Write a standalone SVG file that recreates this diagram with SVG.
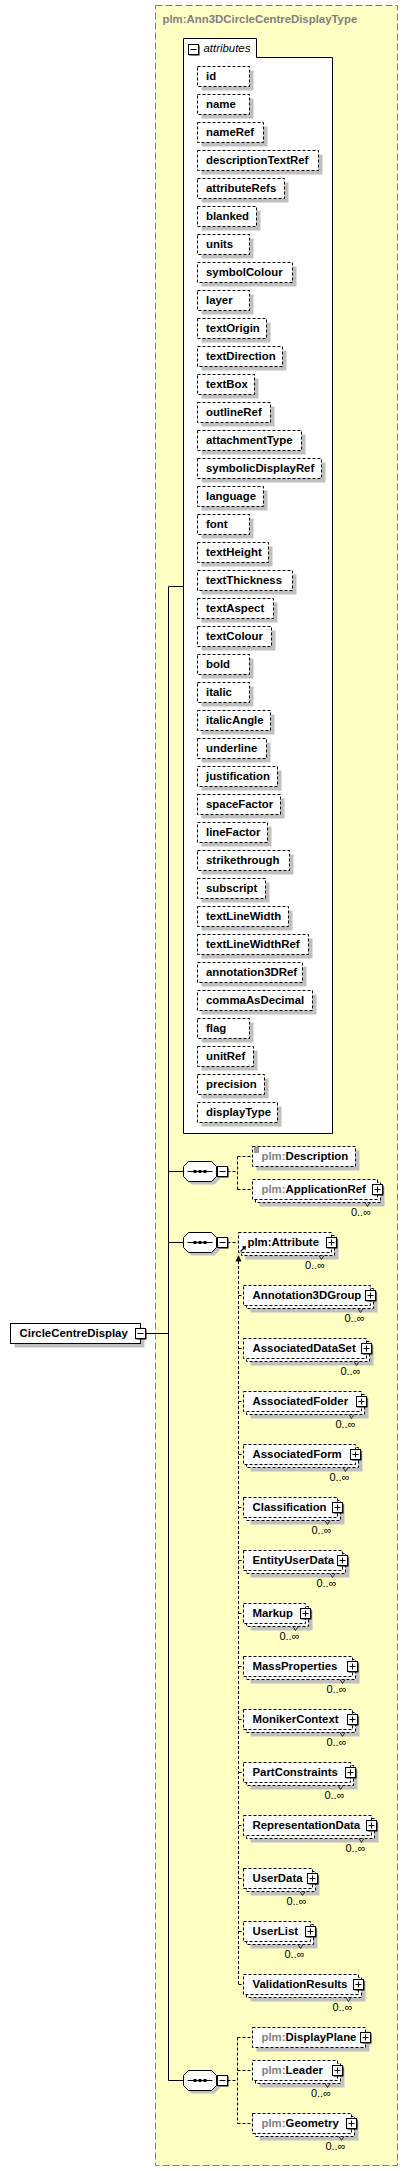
<svg xmlns="http://www.w3.org/2000/svg" xmlns:xlink="http://www.w3.org/1999/xlink" width="408" height="2171" viewBox="0 0 408 2171">
<style>
.t{font-family:"Liberation Sans",Arial,sans-serif;font-size:11.4px;font-weight:bold;fill:#000}
.g{fill:#808080}
.c{font-family:"Liberation Sans",Arial,sans-serif;font-size:11px;fill:#000}
.it{font-family:"Liberation Sans",Arial,sans-serif;font-size:11.4px;font-style:italic;fill:#000}
.box{fill:#fff;stroke:#000;stroke-dasharray:3,2}
.sbox{fill:#fff;stroke:#000}
.sh{fill:#c0c0c0}
.dash{fill:none;stroke:#000;stroke-dasharray:3,2}
.ln{fill:none;stroke:#000}
.tk{fill:none;stroke:#000;stroke-width:0.8}
</style>
<defs>
<g id="minus"><rect x="1" y="1" width="10" height="10" fill="#000"/><rect width="10" height="10" fill="#fff" stroke="#000"/><path d="M2,5H8" stroke="#000"/></g>
<g id="plus"><rect x="1" y="1" width="10" height="10" fill="#000"/><rect width="10" height="10" fill="#fff" stroke="#000"/><path d="M2,5H8M5,2V8" stroke="#000"/></g>
<g id="seq">
<polygon points="8,3 31,3 36,8 36,18 31,23 8,23 3,18 3,8" fill="#c0c0c0"/>
<polygon points="5,0 28,0 33,5 33,15 28,20 5,20 0,15 0,5" fill="#fff" stroke="#000"/>
<path d="M4,10H29" stroke="#000"/>
<rect x="10" y="8.5" width="3" height="3" fill="#000"/>
<rect x="15" y="8.5" width="3" height="3" fill="#000"/>
<rect x="20" y="8.5" width="3" height="3" fill="#000"/>
<use xlink:href="#minus" x="34" y="5"/>
</g>
</defs>

<g id="type-box">
<rect x="155.5" y="5.5" width="242" height="2160" fill="#ffffc4" stroke="#808080" stroke-dasharray="7,3"/>
<text class="t g" x="162.5" y="23">plm:Ann3DCircleCentreDisplayType</text>
</g>

<g id="attributes">
<path d="M183.5,38.5H256.5V57.5H332.5V1133.5H183.5Z" fill="#fff" stroke="#000"/>
<use xlink:href="#minus" x="188.5" y="44.5"/>
<text class="it" x="203.5" y="52">attributes</text>
</g>

<g id="connectors">
<path class="ln" d="M145.5,1333.5H168.5M168.5,586.5V2080.5M168.5,586.5H183.5M168.5,1171.5H183.5M168.5,1242.5H183.5M168.5,2080.5H183.5"/>
<path class="dash" d="M227.5,1171.5H237.5M237.5,1156.5V1189.5M237.5,1156.5H252.5M237.5,1189.5H252.5"/>
<path class="dash" d="M227.5,1242.5H238.5"/>
<path class="dash" d="M238.5,1261V1984.5"/>
<polygon points="238.5,1255 235.5,1261.5 241.5,1261.5" fill="#000"/>
<path class="dash" d="M238.5,1295.5H243.5M238.5,1348.5H243.5M238.5,1401.5H243.5M238.5,1454.5H243.5M238.5,1507.5H243.5M238.5,1560.5H243.5M238.5,1613.5H243.5M238.5,1666.5H243.5M238.5,1719.5H243.5M238.5,1772.5H243.5M238.5,1825.5H243.5M238.5,1878.5H243.5M238.5,1931.5H243.5M238.5,1984.5H243.5"/>
<path class="dash" d="M227.5,2080.5H237.5M237.5,2037.5V2123.5M237.5,2037.5H252.5M237.5,2070.5H252.5M237.5,2123.5H252.5"/>
</g>

<g id="attr-id"><rect class="sh" x="201.5" y="70.5" width="52" height="20"/><rect class="box" x="197.5" y="66.5" width="52" height="20"/><text class="t" x="206" y="80">id</text></g>
<g id="attr-name"><rect class="sh" x="201.5" y="98.5" width="52" height="20"/><rect class="box" x="197.5" y="94.5" width="52" height="20"/><text class="t" x="206" y="108">name</text></g>
<g id="attr-nameRef"><rect class="sh" x="201.5" y="126.5" width="66" height="20"/><rect class="box" x="197.5" y="122.5" width="66" height="20"/><text class="t" x="206" y="136">nameRef</text></g>
<g id="attr-descriptionTextRef"><rect class="sh" x="201.5" y="154.5" width="121" height="20"/><rect class="box" x="197.5" y="150.5" width="121" height="20"/><text class="t" x="206" y="164">descriptionTextRef</text></g>
<g id="attr-attributeRefs"><rect class="sh" x="201.5" y="182.5" width="87" height="20"/><rect class="box" x="197.5" y="178.5" width="87" height="20"/><text class="t" x="206" y="192">attributeRefs</text></g>
<g id="attr-blanked"><rect class="sh" x="201.5" y="210.5" width="59" height="20"/><rect class="box" x="197.5" y="206.5" width="59" height="20"/><text class="t" x="206" y="220">blanked</text></g>
<g id="attr-units"><rect class="sh" x="201.5" y="238.5" width="52" height="20"/><rect class="box" x="197.5" y="234.5" width="52" height="20"/><text class="t" x="206" y="248">units</text></g>
<g id="attr-symbolColour"><rect class="sh" x="201.5" y="266.5" width="95" height="20"/><rect class="box" x="197.5" y="262.5" width="95" height="20"/><text class="t" x="206" y="276">symbolColour</text></g>
<g id="attr-layer"><rect class="sh" x="201.5" y="294.5" width="52" height="20"/><rect class="box" x="197.5" y="290.5" width="52" height="20"/><text class="t" x="206" y="304">layer</text></g>
<g id="attr-textOrigin"><rect class="sh" x="201.5" y="322.5" width="69" height="20"/><rect class="box" x="197.5" y="318.5" width="69" height="20"/><text class="t" x="206" y="332">textOrigin</text></g>
<g id="attr-textDirection"><rect class="sh" x="201.5" y="350.5" width="85" height="20"/><rect class="box" x="197.5" y="346.5" width="85" height="20"/><text class="t" x="206" y="360">textDirection</text></g>
<g id="attr-textBox"><rect class="sh" x="201.5" y="378.5" width="57" height="20"/><rect class="box" x="197.5" y="374.5" width="57" height="20"/><text class="t" x="206" y="388">textBox</text></g>
<g id="attr-outlineRef"><rect class="sh" x="201.5" y="406.5" width="73" height="20"/><rect class="box" x="197.5" y="402.5" width="73" height="20"/><text class="t" x="206" y="416">outlineRef</text></g>
<g id="attr-attachmentType"><rect class="sh" x="201.5" y="434.5" width="104" height="20"/><rect class="box" x="197.5" y="430.5" width="104" height="20"/><text class="t" x="206" y="444">attachmentType</text></g>
<g id="attr-symbolicDisplayRef"><rect class="sh" x="201.5" y="462.5" width="124" height="20"/><rect class="box" x="197.5" y="458.5" width="124" height="20"/><text class="t" x="206" y="472">symbolicDisplayRef</text></g>
<g id="attr-language"><rect class="sh" x="201.5" y="490.5" width="66" height="20"/><rect class="box" x="197.5" y="486.5" width="66" height="20"/><text class="t" x="206" y="500">language</text></g>
<g id="attr-font"><rect class="sh" x="201.5" y="518.5" width="52" height="20"/><rect class="box" x="197.5" y="514.5" width="52" height="20"/><text class="t" x="206" y="528">font</text></g>
<g id="attr-textHeight"><rect class="sh" x="201.5" y="546.5" width="71" height="20"/><rect class="box" x="197.5" y="542.5" width="71" height="20"/><text class="t" x="206" y="556">textHeight</text></g>
<g id="attr-textThickness"><rect class="sh" x="201.5" y="574.5" width="95" height="20"/><rect class="box" x="197.5" y="570.5" width="95" height="20"/><text class="t" x="206" y="584">textThickness</text></g>
<g id="attr-textAspect"><rect class="sh" x="201.5" y="602.5" width="76" height="20"/><rect class="box" x="197.5" y="598.5" width="76" height="20"/><text class="t" x="206" y="612">textAspect</text></g>
<g id="attr-textColour"><rect class="sh" x="201.5" y="630.5" width="74" height="20"/><rect class="box" x="197.5" y="626.5" width="74" height="20"/><text class="t" x="206" y="640">textColour</text></g>
<g id="attr-bold"><rect class="sh" x="201.5" y="658.5" width="52" height="20"/><rect class="box" x="197.5" y="654.5" width="52" height="20"/><text class="t" x="206" y="668">bold</text></g>
<g id="attr-italic"><rect class="sh" x="201.5" y="686.5" width="52" height="20"/><rect class="box" x="197.5" y="682.5" width="52" height="20"/><text class="t" x="206" y="696">italic</text></g>
<g id="attr-italicAngle"><rect class="sh" x="201.5" y="714.5" width="73" height="20"/><rect class="box" x="197.5" y="710.5" width="73" height="20"/><text class="t" x="206" y="724">italicAngle</text></g>
<g id="attr-underline"><rect class="sh" x="201.5" y="742.5" width="69" height="20"/><rect class="box" x="197.5" y="738.5" width="69" height="20"/><text class="t" x="206" y="752">underline</text></g>
<g id="attr-justification"><rect class="sh" x="201.5" y="770.5" width="80" height="20"/><rect class="box" x="197.5" y="766.5" width="80" height="20"/><text class="t" x="206" y="780">justification</text></g>
<g id="attr-spaceFactor"><rect class="sh" x="201.5" y="798.5" width="83" height="20"/><rect class="box" x="197.5" y="794.5" width="83" height="20"/><text class="t" x="206" y="808">spaceFactor</text></g>
<g id="attr-lineFactor"><rect class="sh" x="201.5" y="826.5" width="70" height="20"/><rect class="box" x="197.5" y="822.5" width="70" height="20"/><text class="t" x="206" y="836">lineFactor</text></g>
<g id="attr-strikethrough"><rect class="sh" x="201.5" y="854.5" width="92" height="20"/><rect class="box" x="197.5" y="850.5" width="92" height="20"/><text class="t" x="206" y="864">strikethrough</text></g>
<g id="attr-subscript"><rect class="sh" x="201.5" y="882.5" width="68" height="20"/><rect class="box" x="197.5" y="878.5" width="68" height="20"/><text class="t" x="206" y="892">subscript</text></g>
<g id="attr-textLineWidth"><rect class="sh" x="201.5" y="910.5" width="91" height="20"/><rect class="box" x="197.5" y="906.5" width="91" height="20"/><text class="t" x="206" y="920">textLineWidth</text></g>
<g id="attr-textLineWidthRef"><rect class="sh" x="201.5" y="938.5" width="111" height="20"/><rect class="box" x="197.5" y="934.5" width="111" height="20"/><text class="t" x="206" y="948">textLineWidthRef</text></g>
<g id="attr-annotation3DRef"><rect class="sh" x="201.5" y="966.5" width="105" height="20"/><rect class="box" x="197.5" y="962.5" width="105" height="20"/><text class="t" x="206" y="976">annotation3DRef</text></g>
<g id="attr-commaAsDecimal"><rect class="sh" x="201.5" y="994.5" width="115" height="20"/><rect class="box" x="197.5" y="990.5" width="115" height="20"/><text class="t" x="206" y="1004">commaAsDecimal</text></g>
<g id="attr-flag"><rect class="sh" x="201.5" y="1022.5" width="52" height="20"/><rect class="box" x="197.5" y="1018.5" width="52" height="20"/><text class="t" x="206" y="1032">flag</text></g>
<g id="attr-unitRef"><rect class="sh" x="201.5" y="1050.5" width="56" height="20"/><rect class="box" x="197.5" y="1046.5" width="56" height="20"/><text class="t" x="206" y="1060">unitRef</text></g>
<g id="attr-precision"><rect class="sh" x="201.5" y="1078.5" width="67" height="20"/><rect class="box" x="197.5" y="1074.5" width="67" height="20"/><text class="t" x="206" y="1088">precision</text></g>
<g id="attr-displayType"><rect class="sh" x="201.5" y="1106.5" width="80" height="20"/><rect class="box" x="197.5" y="1102.5" width="80" height="20"/><text class="t" x="206" y="1116">displayType</text></g>

<g id="root-CircleCentreDisplay">
<rect class="sh" x="14.5" y="1327.5" width="130" height="20"/>
<rect class="sbox" x="10.5" y="1323.5" width="130" height="20"/>
<text class="t" x="19.5" y="1337">CircleCentreDisplay</text>
<use xlink:href="#minus" x="135.5" y="1328.5"/>
</g>

<g id="seq1"><use xlink:href="#seq" x="183.5" y="1161.5"/></g>
<g id="seq2"><use xlink:href="#seq" x="183.5" y="1232.5"/></g>
<g id="seq3"><use xlink:href="#seq" x="183.5" y="2070.5"/></g>

<g id="el-Description">
<rect class="sh" x="256.5" y="1150.5" width="103" height="20"/>
<rect class="box" x="252.5" y="1146.5" width="103" height="20"/>
<path class="tk" d="M254,1148H259M254,1150H259M254,1152H259"/>
<text class="t" x="261.5" y="1160"><tspan class="g">plm:</tspan>Description</text>
</g>
<g id="el-ApplicationRef">
<rect class="sh" x="259.5" y="1186.5" width="125" height="20"/>
<rect class="box" x="255.5" y="1182.5" width="125" height="20"/>
<rect class="box" x="252.5" y="1179.5" width="125" height="20"/>
<text class="t" x="261.5" y="1193"><tspan class="g">plm:</tspan>ApplicationRef</text>
<use xlink:href="#plus" x="372.5" y="1184.5"/>
<path class="tk" d="M365,1202.5L367.5,1206.5L370,1202.5"/>
<text class="c" x="371" y="1216" text-anchor="end">0..∞</text>
</g>

<g id="el-Attribute">
<rect class="sh" x="245.5" y="1239.5" width="93" height="20"/>
<rect class="box" x="241.5" y="1235.5" width="93" height="20"/>
<rect class="box" x="238.5" y="1232.5" width="93" height="20"/>
<text class="t" x="247.5" y="1246">plm:Attribute</text>
<path d="M240.5,1251.5L244.5,1247.5" stroke="#000" stroke-width="1.2"/>
<polygon points="246,1246 241.8,1246.6 245.4,1250.2" fill="#000"/>
<use xlink:href="#plus" x="326.5" y="1237.5"/>
<path class="tk" d="M319,1255.5L321.5,1259.5L324,1255.5"/>
<text class="c" x="325" y="1268.5" text-anchor="end">0..∞</text>
</g>

<g id="el-Annotation3DGroup">
<rect class="sh" x="250.5" y="1292.5" width="127" height="20"/><rect class="box" x="246.5" y="1288.5" width="127" height="20"/><rect class="box" x="243.5" y="1285.5" width="127" height="20"/>
<text class="t" x="252.5" y="1299">Annotation3DGroup</text><use xlink:href="#plus" x="365.5" y="1290.5"/>
<path class="tk" d="M358,1308.5L360.5,1312.5L363,1308.5"/><text class="c" x="364.5" y="1321.5" text-anchor="end">0..∞</text>
</g>
<g id="el-AssociatedDataSet">
<rect class="sh" x="250.5" y="1345.5" width="123" height="20"/><rect class="box" x="246.5" y="1341.5" width="123" height="20"/><rect class="box" x="243.5" y="1338.5" width="123" height="20"/>
<text class="t" x="252.5" y="1352">AssociatedDataSet</text><use xlink:href="#plus" x="361.5" y="1343.5"/>
<path class="tk" d="M354,1361.5L356.5,1365.5L359,1361.5"/><text class="c" x="360.5" y="1374.5" text-anchor="end">0..∞</text>
</g>
<g id="el-AssociatedFolder">
<rect class="sh" x="250.5" y="1398.5" width="118" height="20"/><rect class="box" x="246.5" y="1394.5" width="118" height="20"/><rect class="box" x="243.5" y="1391.5" width="118" height="20"/>
<text class="t" x="252.5" y="1405">AssociatedFolder</text><use xlink:href="#plus" x="356.5" y="1396.5"/>
<path class="tk" d="M349,1414.5L351.5,1418.5L354,1414.5"/><text class="c" x="355.5" y="1427.5" text-anchor="end">0..∞</text>
</g>
<g id="el-AssociatedForm">
<rect class="sh" x="250.5" y="1451.5" width="112" height="20"/><rect class="box" x="246.5" y="1447.5" width="112" height="20"/><rect class="box" x="243.5" y="1444.5" width="112" height="20"/>
<text class="t" x="252.5" y="1458">AssociatedForm</text><use xlink:href="#plus" x="350.5" y="1449.5"/>
<path class="tk" d="M343,1467.5L345.5,1471.5L348,1467.5"/><text class="c" x="349.5" y="1480.5" text-anchor="end">0..∞</text>
</g>
<g id="el-Classification">
<rect class="sh" x="250.5" y="1504.5" width="94" height="20"/><rect class="box" x="246.5" y="1500.5" width="94" height="20"/><rect class="box" x="243.5" y="1497.5" width="94" height="20"/>
<text class="t" x="252.5" y="1511">Classification</text><use xlink:href="#plus" x="332.5" y="1502.5"/>
<path class="tk" d="M325,1520.5L327.5,1524.5L330,1520.5"/><text class="c" x="331.5" y="1533.5" text-anchor="end">0..∞</text>
</g>
<g id="el-EntityUserData">
<rect class="sh" x="250.5" y="1557.5" width="99" height="20"/><rect class="box" x="246.5" y="1553.5" width="99" height="20"/><rect class="box" x="243.5" y="1550.5" width="99" height="20"/>
<text class="t" x="252.5" y="1564">EntityUserData</text><use xlink:href="#plus" x="337.5" y="1555.5"/>
<path class="tk" d="M330,1573.5L332.5,1577.5L335,1573.5"/><text class="c" x="336.5" y="1586.5" text-anchor="end">0..∞</text>
</g>
<g id="el-Markup">
<rect class="sh" x="250.5" y="1610.5" width="62" height="20"/><rect class="box" x="246.5" y="1606.5" width="62" height="20"/><rect class="box" x="243.5" y="1603.5" width="62" height="20"/>
<text class="t" x="252.5" y="1617">Markup</text><use xlink:href="#plus" x="300.5" y="1608.5"/>
<path class="tk" d="M293,1626.5L295.5,1630.5L298,1626.5"/><text class="c" x="299.5" y="1639.5" text-anchor="end">0..∞</text>
</g>
<g id="el-MassProperties">
<rect class="sh" x="250.5" y="1663.5" width="109" height="20"/><rect class="box" x="246.5" y="1659.5" width="109" height="20"/><rect class="box" x="243.5" y="1656.5" width="109" height="20"/>
<text class="t" x="252.5" y="1670">MassProperties</text><use xlink:href="#plus" x="347.5" y="1661.5"/>
<path class="tk" d="M340,1679.5L342.5,1683.5L345,1679.5"/><text class="c" x="346.5" y="1692.5" text-anchor="end">0..∞</text>
</g>
<g id="el-MonikerContext">
<rect class="sh" x="250.5" y="1716.5" width="109" height="20"/><rect class="box" x="246.5" y="1712.5" width="109" height="20"/><rect class="box" x="243.5" y="1709.5" width="109" height="20"/>
<text class="t" x="252.5" y="1723">MonikerContext</text><use xlink:href="#plus" x="347.5" y="1714.5"/>
<path class="tk" d="M340,1732.5L342.5,1736.5L345,1732.5"/><text class="c" x="346.5" y="1745.5" text-anchor="end">0..∞</text>
</g>
<g id="el-PartConstraints">
<rect class="sh" x="250.5" y="1769.5" width="107" height="20"/><rect class="box" x="246.5" y="1765.5" width="107" height="20"/><rect class="box" x="243.5" y="1762.5" width="107" height="20"/>
<text class="t" x="252.5" y="1776">PartConstraints</text><use xlink:href="#plus" x="345.5" y="1767.5"/>
<path class="tk" d="M338,1785.5L340.5,1789.5L343,1785.5"/><text class="c" x="344.5" y="1798.5" text-anchor="end">0..∞</text>
</g>
<g id="el-RepresentationData">
<rect class="sh" x="250.5" y="1822.5" width="128" height="20"/><rect class="box" x="246.5" y="1818.5" width="128" height="20"/><rect class="box" x="243.5" y="1815.5" width="128" height="20"/>
<text class="t" x="252.5" y="1829">RepresentationData</text><use xlink:href="#plus" x="366.5" y="1820.5"/>
<path class="tk" d="M359,1838.5L361.5,1842.5L364,1838.5"/><text class="c" x="365.5" y="1851.5" text-anchor="end">0..∞</text>
</g>
<g id="el-UserData">
<rect class="sh" x="250.5" y="1875.5" width="69" height="20"/><rect class="box" x="246.5" y="1871.5" width="69" height="20"/><rect class="box" x="243.5" y="1868.5" width="69" height="20"/>
<text class="t" x="252.5" y="1882">UserData</text><use xlink:href="#plus" x="307.5" y="1873.5"/>
<path class="tk" d="M300,1891.5L302.5,1895.5L305,1891.5"/><text class="c" x="306.5" y="1904.5" text-anchor="end">0..∞</text>
</g>
<g id="el-UserList">
<rect class="sh" x="250.5" y="1928.5" width="67" height="20"/><rect class="box" x="246.5" y="1924.5" width="67" height="20"/><rect class="box" x="243.5" y="1921.5" width="67" height="20"/>
<text class="t" x="252.5" y="1935">UserList</text><use xlink:href="#plus" x="305.5" y="1926.5"/>
<path class="tk" d="M298,1944.5L300.5,1948.5L303,1944.5"/><text class="c" x="304.5" y="1957.5" text-anchor="end">0..∞</text>
</g>
<g id="el-ValidationResults">
<rect class="sh" x="250.5" y="1981.5" width="115" height="20"/><rect class="box" x="246.5" y="1977.5" width="115" height="20"/><rect class="box" x="243.5" y="1974.5" width="115" height="20"/>
<text class="t" x="252.5" y="1988">ValidationResults</text><use xlink:href="#plus" x="353.5" y="1979.5"/>
<path class="tk" d="M346,1997.5L348.5,2001.5L351,1997.5"/><text class="c" x="352.5" y="2010.5" text-anchor="end">0..∞</text>
</g>

<g id="el-DisplayPlane">
<rect class="sh" x="256.5" y="2031.5" width="113" height="20"/>
<rect class="box" x="252.5" y="2027.5" width="113" height="20"/>
<text class="t" x="261.5" y="2041"><tspan class="g">plm:</tspan>DisplayPlane</text>
<use xlink:href="#plus" x="360.5" y="2032.5"/>
</g>
<g id="el-Leader">
<rect class="sh" x="259.5" y="2067.5" width="85" height="20"/><rect class="box" x="255.5" y="2063.5" width="85" height="20"/><rect class="box" x="252.5" y="2060.5" width="85" height="20"/>
<text class="t" x="261.5" y="2074"><tspan class="g">plm:</tspan>Leader</text><use xlink:href="#plus" x="332.5" y="2065.5"/>
<path class="tk" d="M325,2083.5L327.5,2087.5L330,2083.5"/><text class="c" x="331" y="2097" text-anchor="end">0..∞</text>
</g>
<g id="el-Geometry">
<rect class="sh" x="259.5" y="2120.5" width="99" height="20"/><rect class="box" x="255.5" y="2116.5" width="99" height="20"/><rect class="box" x="252.5" y="2113.5" width="99" height="20"/>
<text class="t" x="261.5" y="2127"><tspan class="g">plm:</tspan>Geometry</text><use xlink:href="#plus" x="346.5" y="2118.5"/>
<path class="tk" d="M339,2136.5L341.5,2140.5L344,2136.5"/><text class="c" x="345.5" y="2150" text-anchor="end">0..∞</text>
</g>
</svg>
